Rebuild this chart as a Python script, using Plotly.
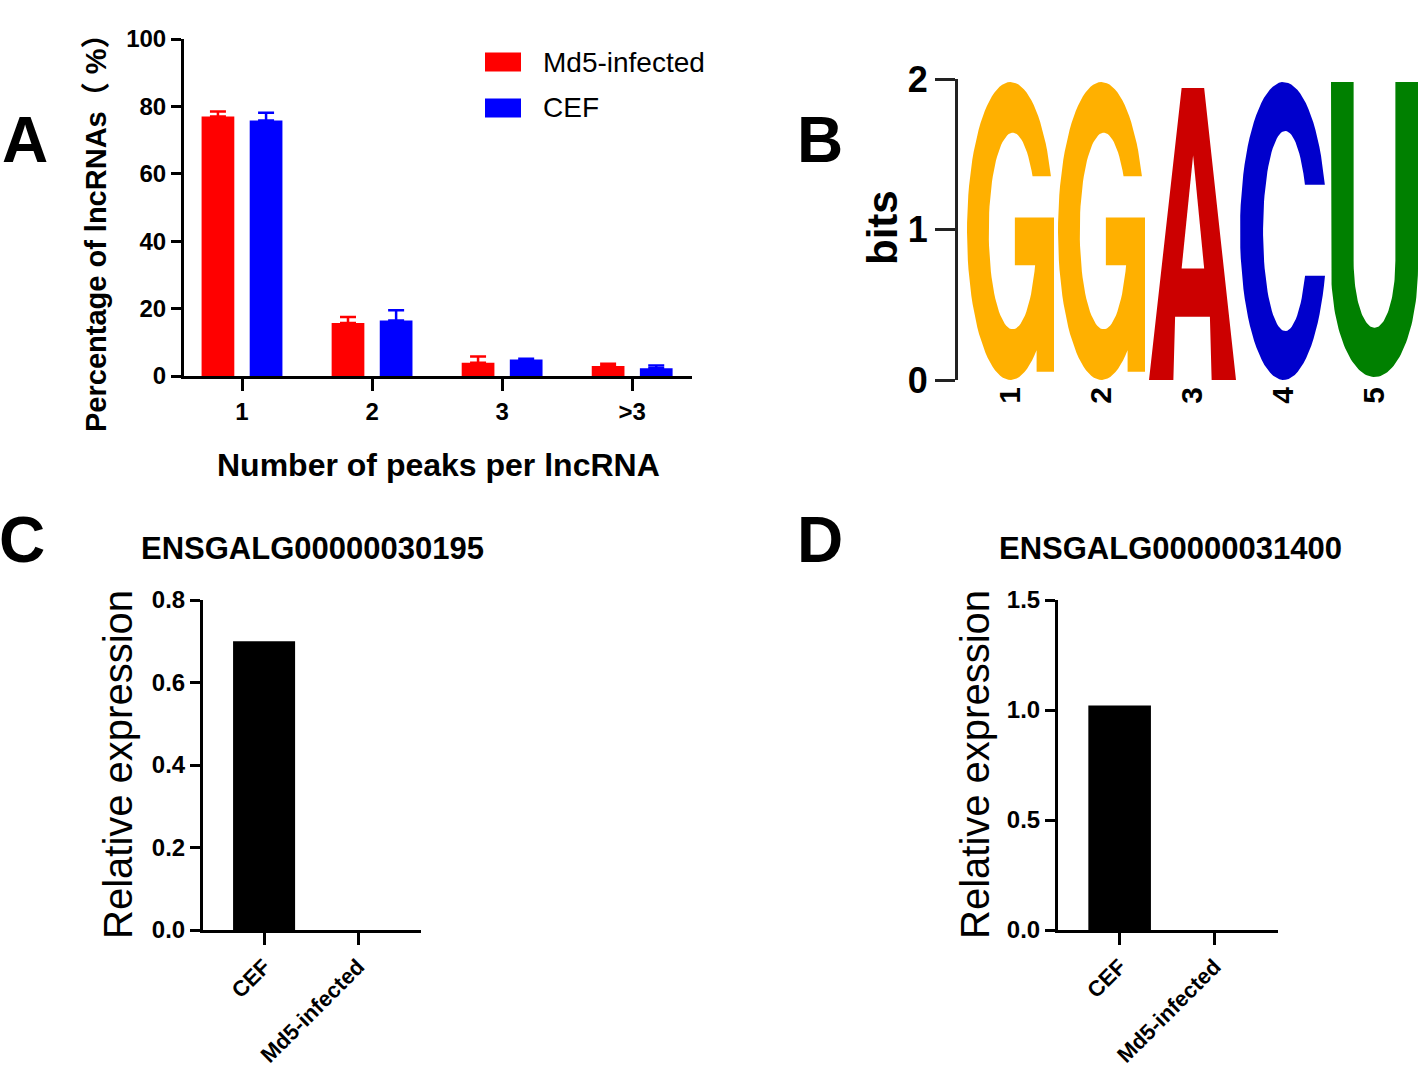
import numpy as np
import plotly.graph_objects as go

# ---------------- data ----------------
# Panel A
peak_cats = ["1", "2", "3", ">3"]
md5_pct = [77.0, 15.7, 3.9, 3.0]
md5_err = [1.5, 1.8, 1.9, 0.6]
cef_pct = [75.8, 16.5, 4.9, 2.3]
cef_err = [2.3, 3.0, 0.2, 0.8]

# Panel B (sequence logo)
logo_positions = [1, 2, 3, 4, 5]
logo_letters = ["G", "G", "A", "C", "U"]
logo_bits = [1.98, 1.98, 1.94, 1.98, 1.98]

# Panels C and D
expr_groups = ["CEF", "Md5-infected"]
expr_030195 = [0.70, 0.0]
expr_031400 = [1.02, 0.0]

gene_c = "ENSGALG00000030195"
gene_d = "ENSGALG00000031400"

# ---------------- style ----------------
W, H = 1418, 1076
FONT = "Liberation Sans, Arial, Noto Sans CJK SC, sans-serif"
RED, BLUE = "#FF0000", "#0000FF"
LETTER_COLORS = {"G": "#FFB000", "A": "#CC0000", "C": "#0000CC", "U": "#008000"}
LETTER_WIDTH = 0.956


def px_x(p):
    return p / W


def px_y(p):
    return 1 - p / H


# ---------------- glyph outlines (unit box) ----------------
def arc(cx, cy, rx, ry, a0, a1, n=80):
    t = np.linspace(a0, a1, n)
    return cx + rx * np.cos(t), cy + ry * np.sin(t)


def glyph_outline(letter):
    if letter == "G":
        xo, yo = arc(0.5, 0.5, 0.5, 0.5, np.arcsin(0.368), 2 * np.pi - np.arccos(0.6))
        sx = [0.8, 1.0, 1.0, 0.55, 0.55]
        sy = [0.028, 0.028, 0.545, 0.545, 0.385]
        xi, yi = arc(0.525, 0.5, 0.275, 0.33, -np.arcsin(0.115 / 0.33),
                     -(2 * np.pi - np.arcsin(0.184 / 0.33)))
        x = np.concatenate([xo, sx, xi, [xo[0]]])
        y = np.concatenate([yo, sy, yi, [yo[0]]])
        return [(x, y, None)]
    if letter == "C":
        xo, yo = arc(0.5, 0.5, 0.5, 0.5, np.arcsin(0.31), 2 * np.pi - np.arcsin(0.30))
        xi, yi = arc(0.52, 0.5, 0.255, 0.336, 2 * np.pi - np.arcsin(0.15 / 0.336),
                     np.arcsin(0.155 / 0.336))
        x = np.concatenate([xo, xi, [xo[0]]])
        y = np.concatenate([yo, yi, [yo[0]]])
        return [(x, y, None)]
    if letter == "U":
        xo, yo = arc(0.5, 0.38, 0.5, 0.37, np.pi, 2 * np.pi)
        xi, yi = arc(0.5, 0.4, 0.24, 0.225, 0, -np.pi)
        x = np.concatenate([[0.0], xo, [1.0, 0.74], xi, [0.26, 0.0]])
        y = np.concatenate([[1.0], yo, [1.0, 1.0], yi, [1.0, 1.0]])
        return [(x, y, None)]
    if letter == "A":
        x = np.array([0, 0.375, 0.634, 1.0, 0.72, 0.70, 0.30, 0.28, 0])
        y = np.array([0, 1.0, 1.0, 0, 0, 0.217, 0.217, 0, 0])
        cx = np.array([0.375, 0.507, 0.634, 0.375])
        cy = np.array([0.382, 0.77, 0.382, 0.382])
        return [(x, y, None), (cx, cy, "white")]
    return []


fig = go.Figure()

# ---------------- Panel A ----------------
fig.add_trace(go.Bar(
    x=peak_cats, y=md5_pct, name="Md5-infected", marker=dict(color=RED, line=dict(width=0)),
    error_y=dict(type="data", array=md5_err, arrayminus=[0] * len(md5_err), symmetric=False,
                 color=RED, thickness=2.5, width=8),
    xaxis="x", yaxis="y"))
fig.add_trace(go.Bar(
    x=peak_cats, y=cef_pct, name="CEF", marker=dict(color=BLUE, line=dict(width=0)),
    error_y=dict(type="data", array=cef_err, arrayminus=[0] * len(cef_err), symmetric=False,
                 color=BLUE, thickness=2.5, width=8),
    xaxis="x", yaxis="y"))

# ---------------- Panel B (logo) ----------------
for pos, letter, bits in zip(logo_positions, logo_letters, logo_bits):
    for gx, gy, override in glyph_outline(letter):
        X = pos + (gx - 0.5) * LETTER_WIDTH
        Y = gy * bits
        col = override if override else LETTER_COLORS[letter]
        fig.add_trace(go.Scatter(
            x=X, y=Y, mode="lines", fill="toself", fillcolor=col,
            line=dict(width=0, color=col), hoverinfo="skip",
            xaxis="x2", yaxis="y2"))

# ---------------- Panels C, D ----------------
fig.add_trace(go.Bar(x=expr_groups, y=expr_030195, width=0.66,
                     marker=dict(color="black", line=dict(width=0)), xaxis="x3", yaxis="y3"))
fig.add_trace(go.Bar(x=expr_groups, y=expr_031400, width=0.66,
                     marker=dict(color="black", line=dict(width=0)), xaxis="x4", yaxis="y4"))

tickfont = dict(family=FONT, size=24, color="black", weight="bold")
axis_common = dict(showline=True, linecolor="black", linewidth=3, ticks="outside",
                   tickcolor="black", tickwidth=3, showgrid=False, zeroline=False,
                   tickfont=tickfont, automargin=False)

layout = dict(
    template="none",
    width=W, height=H, margin=dict(l=0, r=0, t=0, b=0, pad=0), autosize=False,
    paper_bgcolor="white", plot_bgcolor="white", showlegend=False,
    barmode="group", bargap=0.26, bargroupgap=0.32,
    font=dict(family=FONT, color="black"),
)

# A axes
layout["xaxis"] = dict(axis_common, domain=[px_x(184), px_x(692)], anchor="y",
                       type="category", range=[-0.446, 3.46], ticklen=12)
layout["yaxis"] = dict(axis_common, domain=[px_y(376), px_y(39)], anchor="x",
                       range=[0, 100], tickvals=[0, 20, 40, 60, 80, 100], ticklen=10)
# B axes
layout["xaxis2"] = dict(domain=[px_x(958), px_x(1418)], anchor="y2", range=[0.423, 5.478],
                        showline=False, showgrid=False, zeroline=False, ticks="",
                        tickvals=logo_positions, ticktext=[str(p) for p in logo_positions],
                        tickangle=-90, automargin=False,
                        tickfont=dict(family=FONT, size=30, color="black", weight="bold"))
layout["yaxis2"] = dict(showline=True, linecolor="#222", linewidth=3, ticks="outside",
                        tickcolor="#222", tickwidth=3, ticklen=20, showgrid=False,
                        zeroline=False, domain=[px_y(380), px_y(79)], anchor="x2",
                        range=[0, 2], tickvals=[0, 1, 2], automargin=False,
                        tickfont=dict(family=FONT, size=36, color="black", weight="bold"))
# C axes
tick_small = dict(tickfont, size=22)
layout["xaxis3"] = dict(axis_common, domain=[px_x(203), px_x(421)], anchor="y3",
                        type="category", range=[-0.65, 1.67], ticklen=12, tickangle=-45,
                        tickfont=tick_small)
layout["yaxis3"] = dict(axis_common, domain=[px_y(930), px_y(600)], anchor="x3",
                        range=[0, 0.8], tickvals=[0, 0.2, 0.4, 0.6, 0.8], tickformat=".1f",
                        ticklen=10)
# D axes
layout["xaxis4"] = dict(axis_common, domain=[px_x(1058), px_x(1278)], anchor="y4",
                        type="category", range=[-0.65, 1.67], ticklen=12, tickangle=-45,
                        tickfont=tick_small)
layout["yaxis4"] = dict(axis_common, domain=[px_y(930), px_y(600)], anchor="x4",
                        range=[0, 1.5], tickvals=[0, 0.5, 1.0, 1.5], tickformat=".1f",
                        ticklen=10)

fig.update_layout(**layout)


def ann(text, x, y, size, bold=True, angle=0, xanchor="center"):
    fig.add_annotation(text=text, x=px_x(x), y=px_y(y), xref="paper", yref="paper",
                       showarrow=False, textangle=angle, xanchor=xanchor, yanchor="middle",
                       font=dict(family=FONT, size=size, color="black",
                                 weight="bold" if bold else "normal"))


# panel letters
ann("A", 25, 140, 64)
ann("B", 820, 140, 64)
ann("C", 22, 540, 64)
ann("D", 820, 540, 64)

# Panel A titles
ann("Percentage of lncRNAs（ %）", 96, 226, 29, angle=-90)
ann("Number of peaks per lncRNA", 438, 465, 32)

# Panel A legend
legend_items = [("Md5-infected", RED, 62), ("CEF", BLUE, 108)]
for label, col, yc in legend_items:
    fig.add_shape(type="rect", xref="paper", yref="paper",
                  x0=px_x(485), x1=px_x(521), y0=px_y(yc + 9.5), y1=px_y(yc - 9.5),
                  fillcolor=col, line=dict(width=0))
    ann(label, 541, yc, 28, bold=False, xanchor="left")

# Panel B title
ann("bits", 882, 228, 42, angle=-90)

# Panel C/D titles
ann(gene_c, 312, 548, 31)
ann(gene_d, 1170, 548, 31)
ann("Relative expression", 118, 765, 40, bold=False, angle=-90)
ann("Relative expression", 975, 765, 40, bold=False, angle=-90)

fig.write_html("out.html", config={"displayModeBar": False},
               post_script="document.body.style.margin='0';")
